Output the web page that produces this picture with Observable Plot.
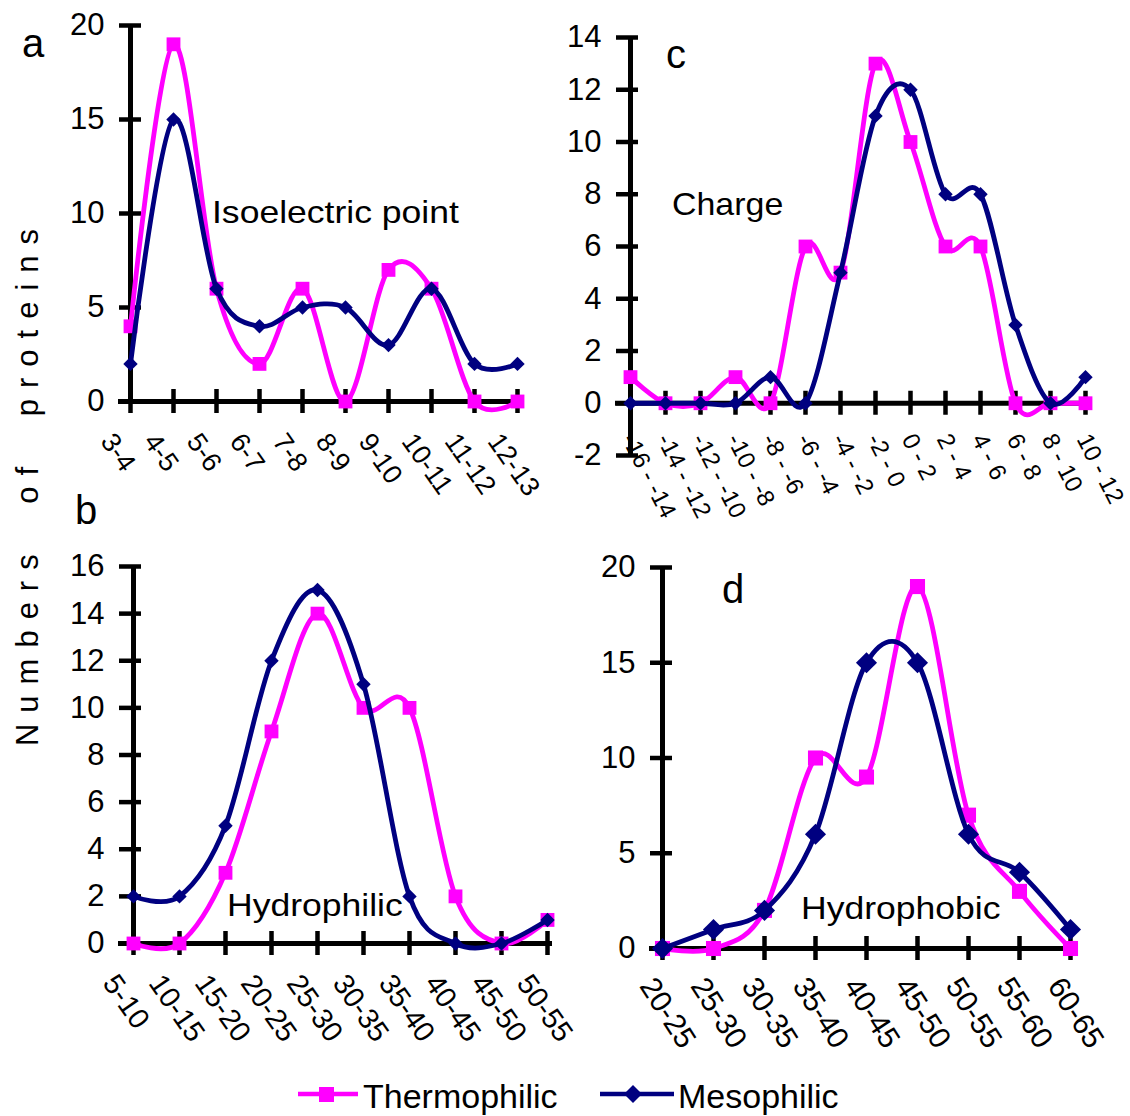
<!DOCTYPE html>
<html><head><meta charset="utf-8">
<script src="https://cdn.jsdelivr.net/npm/d3@7"></script>
<script src="https://cdn.jsdelivr.net/npm/@observablehq/plot@0.6"></script>
<style>
body{margin:0;background:#fff;}
#root{position:relative;width:1130px;height:1116px;overflow:hidden;font-family:Arial,"Liberation Sans",sans-serif;background:#fff;}
.panel{position:absolute;}
.lbl{position:absolute;line-height:1;white-space:nowrap;color:#000;transform-origin:0 0;}
</style></head><body><div id="root"></div>
<script>
// ---------- data ----------
const seriesNames = ["Thermophilic", "Mesophilic"];
const seriesColors = ["#ff00ff", "#000080"];

// a: isoelectric point
const pICats = ["3-4","4-5","5-6","6-7","7-8","8-9","9-10","10-11","11-12","12-13"];
const pIThermo = [4,19,6,2,6,0,7,6,0,0];
const pIMeso   = [2,15,6,4,5,5,3,6,2,2];
const pITicks  = [0,5,10,15,20];

// b: hydrophilic
const philCats = ["5-10","10-15","15-20","20-25","25-30","30-35","35-40","40-45","45-50","50-55"];
const philThermo = [0,0,3,9,14,10,10,2,0,1];
const philMeso   = [2,2,5,12,15,11,2,0,0,1];
const philTicks  = [0,2,4,6,8,10,12,14,16];

// c: charge
const chCats = ["-16 - -14","-14 - -12","-12 - -10","-10 - -8","-8 - -6","-6 - -4","-4 - -2","-2 - 0","0 - 2","2 - 4","4 - 6","6 - 8","8 - 10","10 - 12"];
const chThermo = [1,0,0,1,0,6,5,13,10,6,6,0,0,0];
const chMeso   = [0,0,0,0,1,0,5,11,12,8,8,3,0,1];
const chTicks  = [-2,0,2,4,6,8,10,12,14];

// d: hydrophobic
const phobCats = ["20-25","25-30","30-35","35-40","40-45","45-50","50-55","55-60","60-65"];
const phobThermo = [0,0,2,10,9,19,7,3,0];
const phobMeso   = [0,1,2,6,15,15,6,4,1];
const phobTicks  = [0,5,10,15,20];

const root = document.getElementById("root");
const FONT = "Arial, 'Liberation Sans', sans-serif";

function panel(cfg) {
  const rows = cfg.cats.map((c, i) => ({cat: c, t: cfg.thermo[i], m: cfg.meso[i]}));
  const frameBottom = cfg.height - cfg.mb;
  const yScaleH = frameBottom - cfg.mt;
  const zeroOffset = (0 - cfg.yDomain[0]) / (cfg.yDomain[1] - cfg.yDomain[0]) * yScaleH;
  const chart = Plot.plot({
    width: cfg.width, height: cfg.height,
    marginLeft: cfg.ml, marginRight: cfg.mr, marginTop: cfg.mt, marginBottom: cfg.mb,
    style: {background: "transparent", overflow: "visible", fontFamily: FONT, color: "#000"},
    x: {type: "point", domain: cfg.cats, padding: 0, axis: null},
    y: {domain: cfg.yDomain, axis: null},
    marks: [
      Plot.ruleX([cfg.cats[0]], {y1: cfg.yDomain[0], y2: cfg.yDomain[1], stroke: "#000", strokeWidth: 5}),
      Plot.ruleY([0], {stroke: "#000", strokeWidth: 5, insetLeft: -12, insetRight: -3}),
      Plot.axisY({ticks: cfg.yTicks, tickSize: 22, dx: 11, tickPadding: 15, fontSize: 31,
        strokeWidth: 4.5, tickFormat: d => String(d)}),
      // tick marks crossing the zero line
      Plot.axisX({anchor: "bottom", tickSize: 24, dy: -zeroOffset - 12, tickFormat: () => "",
        label: null, strokeWidth: 4.5}),
      // rotated category labels
      Plot.axisX({anchor: "bottom", tickSize: 0, tickPadding: 0, dx: cfg.labDx, dy: -zeroOffset + cfg.labDy,
        tickRotate: cfg.rot, textAnchor: "start", lineAnchor: "top", fontSize: cfg.xFont, label: null}),
      Plot.line(rows, {x: "cat", y: "t", stroke: seriesColors[0], strokeWidth: 4.8, curve: "cardinal"}),
      Plot.dot(rows, {x: "cat", y: "t", symbol: "square", r: cfg.sq, fill: seriesColors[0], stroke: null}),
      Plot.line(rows, {x: "cat", y: "m", stroke: seriesColors[1], strokeWidth: 4.8, curve: "cardinal"}),
      Plot.dot(rows, {x: "cat", y: "m", symbol: "diamond2", r: cfg.dm, fill: seriesColors[1], stroke: null})
    ]
  });
  const wrap = document.createElement("div");
  wrap.className = "panel";
  wrap.style.left = cfg.left + "px";
  wrap.style.top = cfg.top + "px";
  wrap.appendChild(chart);
  root.appendChild(wrap);
}

panel({cats: pICats, thermo: pIThermo, meso: pIMeso, yDomain: [0,20], yTicks: pITicks,
  left: 0, top: 0, width: 560, height: 520, ml: 130, mr: 43, mt: 25, mb: 119,
  xFont: 27, rot: 55, labDx: -15, labDy: 29, sq: 7.8, dm: 6.5});
panel({cats: chCats, thermo: chThermo, meso: chMeso, yDomain: [-2,14], yTicks: chTicks,
  left: 560, top: 0, width: 570, height: 545, ml: 67, mr: 43, mt: 37, mb: 90,
  xFont: 24, rot: 63, labDx: 6, labDy: 28, sq: 7.8, dm: 6.5});
panel({cats: philCats, thermo: philThermo, meso: philMeso, yDomain: [0,16], yTicks: philTicks,
  left: 0, top: 540, width: 570, height: 520, ml: 130, mr: 21, mt: 26, mb: 117,
  xFont: 29, rot: 55, labDx: -15, labDy: 28, sq: 7.8, dm: 6.5});
panel({cats: phobCats, thermo: phobThermo, meso: phobMeso, yDomain: [0,20], yTicks: phobTicks,
  left: 570, top: 540, width: 560, height: 520, ml: 91, mr: 59, mt: 27, mb: 112,
  xFont: 30, rot: 57, labDx: -6, labDy: 26, sq: 8.5, dm: 9.5});

// ---------- text annotations ----------
function label(text, left, top, size, extra) {
  const d = document.createElement("div");
  d.className = "lbl";
  d.textContent = text;
  d.style.left = left + "px";
  d.style.top = top + "px";
  d.style.fontSize = size + "px";
  if (extra) Object.assign(d.style, extra);
  root.appendChild(d);
}
label("a", 22, 23, 40);
label("c", 666, 34, 40);
label("b", 75, 490, 40);
label("d", 722, 569, 40);
label("Isoelectric point", 212, 196, 32, {transform: "scaleX(1.11)"});
label("Charge", 672, 188, 32, {transform: "scaleX(1.06)"});
label("Hydrophilic", 227, 889, 32, {transform: "scaleX(1.11)"});
label("Hydrophobic", 801, 892, 32, {transform: "scaleX(1.11)"});

// y axis title
label("Numbers of proteins", 28 - 300, 482 - 16, 31, {
  width: "600px", textAlign: "center", letterSpacing: "11px", wordSpacing: "20px",
  transform: "rotate(-90deg)", transformOrigin: "300px 16px"
});

// ---------- legend ----------
const leg = document.createElement("div");
leg.style.position = "absolute";
leg.style.left = "0px";
leg.style.top = "1070px";
leg.innerHTML = `
<svg width="1130" height="46" style="position:absolute;left:0;top:0;overflow:visible">
  <line x1="298" y1="24" x2="358" y2="24" stroke="${seriesColors[0]}" stroke-width="4.5"/>
  <rect x="319" y="17" width="15" height="15" fill="${seriesColors[0]}"/>
  <text x="363" y="38" font-size="34" font-family="${FONT}">${seriesNames[0]}</text>
  <line x1="600" y1="24" x2="674" y2="24" stroke="${seriesColors[1]}" stroke-width="4.5"/>
  <path d="M633,15 L642,24 L633,33 L624,24 Z" fill="${seriesColors[1]}"/>
  <text x="678" y="38" font-size="34" font-family="${FONT}">${seriesNames[1]}</text>
</svg>`;
root.appendChild(leg);
</script>
</body></html>
